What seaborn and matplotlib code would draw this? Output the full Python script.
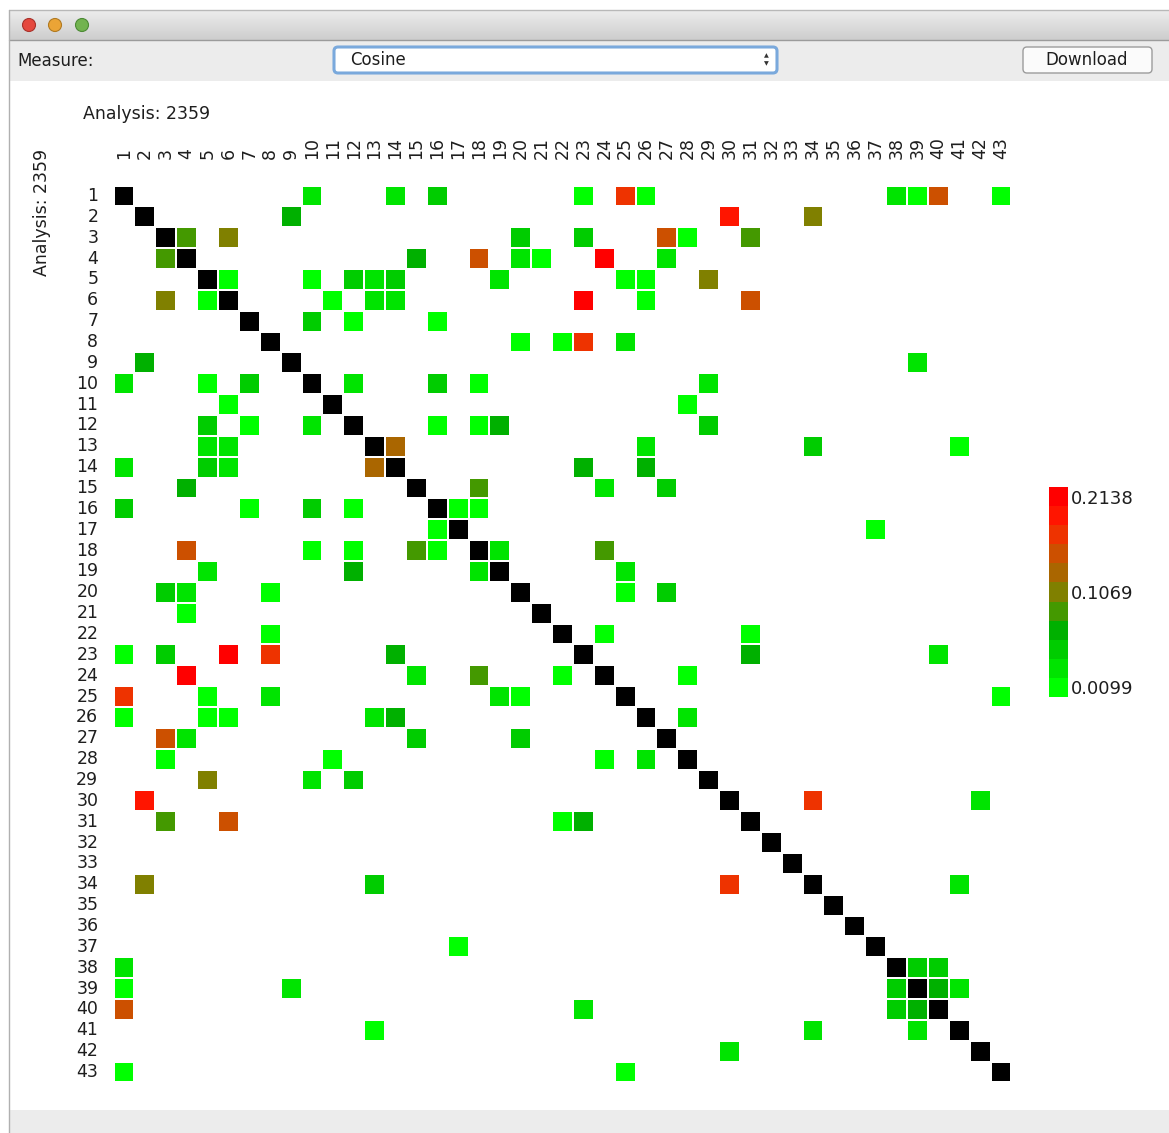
import matplotlib
matplotlib.use("Agg")
import matplotlib.pyplot as plt
import numpy as np
import pandas as pd
import seaborn as sns
from matplotlib.colors import ListedColormap, LinearSegmentedColormap
from matplotlib.patches import Rectangle, FancyBboxPatch, Circle

W, H = 1169, 1133
N = 43
LABELS = [str(i) for i in range(1, N + 1)]
VMIN, VMAX = 0.0099, 0.2138
CBAR_LABELS = ["0.2138", "0.1069", "0.0099"]
AXIS_TITLE = "Analysis: 2359"
MEASURE = "Cosine"

# legend steps, light green (low) -> red (high)
STEP_COLORS = ["#00ff00", "#00e400", "#00cc00", "#00b000", "#449900",
               "#808000", "#aa6600", "#cc5000", "#ee3300", "#ff1500", "#ff0000"]

# off-diagonal similarities, row -> {column: value}; empty cells are missing
rows = {
    1: {10: .038, 14: .038, 16: .056, 23: .015, 25: .168, 26: .015, 38: .038, 39: .015, 40: .149, 43: .015},
    2: {9: .075, 30: .186, 34: .112},
    3: {4: .093, 6: .112, 20: .056, 23: .056, 27: .149, 28: .015, 31: .093},
    4: {3: .093, 15: .075, 18: .149, 20: .038, 21: .015, 24: .205, 27: .038},
    5: {6: .015, 10: .015, 12: .056, 13: .038, 14: .056, 19: .038, 25: .015, 26: .015, 29: .112},
    6: {3: .112, 5: .015, 11: .015, 13: .038, 14: .038, 23: .205, 26: .015, 31: .149},
    7: {10: .056, 12: .015, 16: .015},
    8: {20: .015, 22: .015, 23: .168, 25: .038},
    9: {2: .075, 39: .038},
    10: {1: .038, 5: .015, 7: .056, 12: .038, 16: .056, 18: .015, 29: .038},
    11: {6: .015, 28: .015},
    12: {5: .056, 7: .015, 10: .038, 16: .015, 18: .015, 19: .075, 29: .056},
    13: {5: .038, 6: .038, 14: .130, 26: .038, 34: .056, 41: .015},
    14: {1: .038, 5: .056, 6: .038, 13: .130, 23: .075, 26: .075},
    15: {4: .075, 18: .093, 24: .038, 27: .056},
    16: {1: .056, 7: .015, 10: .056, 12: .015, 17: .015, 18: .015},
    17: {16: .015, 37: .015},
    18: {4: .149, 10: .015, 12: .015, 15: .093, 16: .015, 19: .038, 24: .093},
    19: {5: .038, 12: .075, 18: .038, 25: .038},
    20: {3: .056, 4: .038, 8: .015, 25: .015, 27: .056},
    21: {4: .015},
    22: {8: .015, 24: .015, 31: .015},
    23: {1: .015, 3: .056, 6: .205, 8: .168, 14: .075, 31: .075, 40: .038},
    24: {4: .205, 15: .038, 18: .093, 22: .015, 28: .015},
    25: {1: .168, 5: .015, 8: .038, 19: .038, 20: .015, 43: .015},
    26: {1: .015, 5: .015, 6: .015, 13: .038, 14: .075, 28: .038},
    27: {3: .149, 4: .038, 15: .056, 20: .056},
    28: {3: .015, 11: .015, 24: .015, 26: .038},
    29: {5: .112, 10: .038, 12: .056},
    30: {2: .186, 34: .168, 42: .038},
    31: {3: .093, 6: .149, 22: .015, 23: .075},
    34: {2: .112, 13: .056, 30: .168, 41: .038},
    37: {17: .015},
    38: {1: .038, 39: .056, 40: .056},
    39: {1: .015, 9: .038, 38: .056, 40: .075, 41: .038},
    40: {1: .149, 23: .038, 38: .056, 39: .075},
    41: {13: .015, 34: .038, 39: .038},
    42: {30: .038},
    43: {1: .015, 25: .015},
}

mat = np.full((N, N), np.nan)
for r, cells in rows.items():
    for c, v in cells.items():
        mat[r - 1, c - 1] = v
np.fill_diagonal(mat, 1.0)  # self similarity, drawn black
df = pd.DataFrame(mat, index=LABELS, columns=LABELS)

cmap = ListedColormap(STEP_COLORS)
cmap.set_over("black")

sns.set_theme(style="white")
plt.rcParams["font.family"] = ["DejaVu Sans"]
TXT = "#1e1e1e"

fig = plt.figure(figsize=(W / 100, H / 100), dpi=100)
fig.patch.set_facecolor("white")

# window chrome, drawn in pixel coordinates
bg = fig.add_axes([0, 0, 1, 1], zorder=-1)
grad = np.linspace(0, 1, 64).reshape(-1, 1)
bg.imshow(grad, extent=(9, W, 40, 10), aspect="auto",
          cmap=LinearSegmentedColormap.from_list("bar", ["#ededed", "#cdcdcd"]))
bg.add_patch(Rectangle((9, 40), W - 9, 41, facecolor="#ececec", edgecolor="none"))
bg.add_patch(Rectangle((9, 1110), W - 9, 23, facecolor="#ececec", edgecolor="none"))
bg.plot([9, W], [40, 40], color="#9b9b9b", lw=1)
bg.plot([9, W], [10, 10], color="#b8b8b8", lw=1)
bg.plot([9, 9], [10, H], color="#b0b0b0", lw=1)
for x, fc, ec in [(29, "#e5493f", "#a8322b"), (55, "#eba436", "#b07a22"), (82, "#72b34f", "#4c8a35")]:
    bg.add_patch(Circle((x, 25), 6.5, facecolor=fc, edgecolor=ec, lw=0.8))
bg.text(17, 61, "Measure:", fontsize=12, color=TXT, va="center", ha="left")
bg.add_patch(FancyBboxPatch((334, 47), 443, 26, boxstyle="round,pad=0,rounding_size=4",
                            facecolor="white", edgecolor="#7aa9dc", lw=2.2))
bg.text(350, 60, MEASURE, fontsize=12, color=TXT, va="center", ha="left")
bg.text(766, 56, "\u25b2", fontsize=4.5, color="#333333", va="center", ha="center")
bg.text(766, 64, "\u25bc", fontsize=4.5, color="#333333", va="center", ha="center")
bg.add_patch(FancyBboxPatch((1023, 47), 129, 26, boxstyle="round,pad=0,rounding_size=4",
                            facecolor="#fbfbfb", edgecolor="#9c9c9c", lw=1))
bg.text(1087, 60, "Download", fontsize=12, color=TXT, va="center", ha="center")
bg.text(83, 114, AXIS_TITLE, fontsize=12.5, color=TXT, va="center", ha="left")
bg.text(42, 212, AXIS_TITLE, fontsize=12.5, color=TXT, va="center", ha="center", rotation=90)
bg.set_xlim(0, W)
bg.set_ylim(H, 0)
bg.axis("off")

# heatmap
ax = fig.add_axes([113.6 / W, 1 - 1082.4 / H, 897.8 / W, 896.8 / H])
cax = fig.add_axes([1049 / W, 1 - 697 / H, 19 / W, 210 / H])
sns.heatmap(df, ax=ax, cbar_ax=cax, cmap=cmap, vmin=VMIN, vmax=VMAX,
            linewidths=1.4, linecolor="white", xticklabels=LABELS, yticklabels=LABELS)

ax.xaxis.tick_top()
ax.tick_params(axis="x", length=0, pad=19, labelsize=12.5, labelcolor=TXT)
ax.tick_params(axis="y", length=0, pad=11, labelsize=12.5, labelcolor=TXT)
plt.setp(ax.get_xticklabels(), rotation=90, va="bottom", ha="center")
plt.setp(ax.get_yticklabels(), rotation=0, ha="right", va="center")
ax.set_xlabel("")
ax.set_ylabel("")

cbar = ax.collections[0].colorbar
seg = (VMAX - VMIN) / len(STEP_COLORS)
cbar.set_ticks([VMAX - seg / 2, (VMIN + VMAX) / 2, VMIN + seg / 2], labels=CBAR_LABELS)
cbar.outline.set_visible(False)
cax.tick_params(length=0, pad=2, labelsize=13, labelcolor=TXT)

fig.savefig("out.png", dpi=100, facecolor="white")
